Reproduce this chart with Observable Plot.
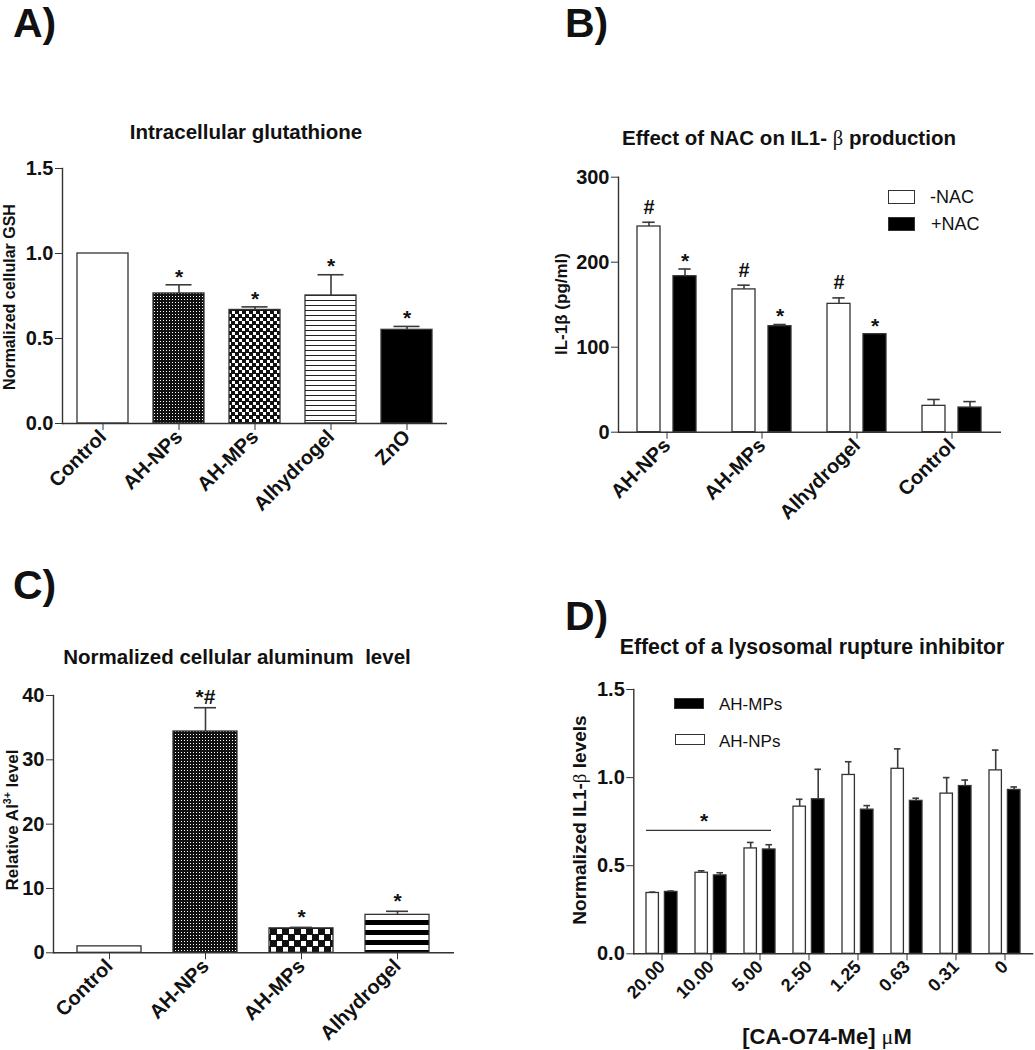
<!DOCTYPE html>
<html>
<head>
<meta charset="utf-8">
<script src="https://cdn.jsdelivr.net/npm/d3@7"></script>
<script src="https://cdn.jsdelivr.net/npm/@observablehq/plot@0.6"></script>
<style>
  body { margin: 0; background: #fff; }
  #page { position: relative; width: 1035px; height: 1050px; overflow: hidden; background: #fff;
          font-family: "Liberation Sans", Arial, Helvetica, sans-serif; color: #111; }
  .abs { position: absolute; white-space: pre; line-height: 1; }
  .ctr { transform: translate(-50%, -50%); }
  .rot { transform: translate(-50%, -50%) rotate(-90deg); }
  .letter { font-size: 41px; font-weight: bold; }
  .title { font-size: 20.5px; font-weight: bold; }
  .ylab { font-weight: bold; }
  .sym { font-family: "Liberation Serif", "DejaVu Serif", serif; font-weight: normal; }
  .leg { font-weight: normal; transform: translateY(-50%); }
  .box { position: absolute; box-sizing: border-box; border: 1.3px solid #333; }
  .panel { position: absolute; }
  sup { font-size: 0.62em; line-height: 0; }
</style>
</head>
<body>
<div id="page">
  <div class="panel" id="pA" style="left:0px;top:100px;width:520px;height:450px"></div>
  <div class="panel" id="pB" style="left:520px;top:100px;width:515px;height:450px"></div>
  <div class="panel" id="pC" style="left:0px;top:640px;width:520px;height:410px"></div>
  <div class="panel" id="pD" style="left:520px;top:640px;width:515px;height:410px"></div>

  <!-- panel letters -->
  <div class="abs letter" style="left:13px;top:3px">A)</div>
  <div class="abs letter" style="left:565px;top:3px">B)</div>
  <div class="abs letter" style="left:13px;top:565px">C)</div>
  <div class="abs letter" style="left:565px;top:596px">D)</div>

  <!-- titles -->
  <div class="abs title ctr" style="left:246px;top:132px">Intracellular glutathione</div>
  <div class="abs title ctr" style="left:789px;top:138px">Effect of NAC on IL1- <span class="sym">β</span> production</div>
  <div class="abs title ctr" style="left:237px;top:657px">Normalized cellular aluminum  level</div>
  <div class="abs title ctr" style="left:812px;top:648px;font-size:21.3px">Effect of a lysosomal rupture inhibitor</div>

  <!-- y axis labels -->
  <div class="abs ylab rot" style="left:10px;top:297px;font-size:16px">Normalized cellular GSH</div>
  <div class="abs ylab rot" style="left:561px;top:304px;font-size:17px">IL-1β (pg/ml)</div>
  <div class="abs ylab rot" style="left:12px;top:820px;font-size:17px">Relative Al<sup>3+</sup> level</div>
  <div class="abs ylab rot" style="left:579px;top:820px;font-size:19px">Normalized IL1-<span class="sym">β</span> levels</div>

  <!-- x axis title D -->
  <div class="abs ctr" style="left:827px;top:1037px;font-size:22px;font-weight:bold">[CA-O74-Me] <span class="sym">μ</span>M</div>

  <!-- legend B -->
  <div class="box" style="left:888px;top:190px;width:27px;height:14px;background:#fff"></div>
  <div class="box" style="left:888px;top:217px;width:27px;height:14px;background:#000"></div>
  <div class="abs leg" style="left:930px;top:197px;font-size:18px">-NAC</div>
  <div class="abs leg" style="left:931px;top:224px;font-size:18px">+NAC</div>

  <!-- legend D -->
  <div class="box" style="left:674px;top:698px;width:30px;height:11px;background:#000"></div>
  <div class="box" style="left:675px;top:734px;width:30px;height:11px;background:#fff"></div>
  <div class="abs leg" style="left:719px;top:704px;font-size:17px">AH-MPs</div>
  <div class="abs leg" style="left:719px;top:741px;font-size:17px">AH-NPs</div>
</div>

<script>
// ================= DATA =================
// Panel A – Intracellular glutathione
const catsA = ["Control", "AH-NPs", "AH-MPs", "Alhydrogel", "ZnO"];
const meanA = [1.0, 0.765, 0.668, 0.753, 0.551];
const errA  = [null, 0.816, 0.686, 0.875, 0.571];
const marksA = ["", "*", "*", "*", "*"];
const ticksA = [0, 0.5, 1.0, 1.5];

// Panel B – Effect of NAC on IL1-β production
const groupsB = ["AH-NPs", "AH-MPs", "Alhydrogel", "Control"];
const minusNAC    = [242, 168, 151, 31];
const minusNACerr = [247, 173, 158, 38.5];
const plusNAC     = [183.5, 124.7, 115.3, 29];
const plusNACerr  = [192, 126.7, null, 36];
const marksMinusB = ["#", "#", "#", ""];
const marksPlusB  = ["*", "*", "*", ""];
const ticksB = [0, 100, 200, 300];

// Panel C – Normalized cellular aluminum level
const catsC = ["Control", "AH-NPs", "AH-MPs", "Alhydrogel"];
const meanC = [1.0, 34.4, 3.8, 5.9];
const errC  = [null, 38.1, 3.95, 6.45];
const marksC = ["", "*#", "*", "*"];
const ticksC = [0, 10, 20, 30, 40];

// Panel D – Effect of a lysosomal rupture inhibitor
const concD  = ["20.00", "10.00", "5.00", "2.50", "1.25", "0.63", "0.31", "0"];
const npD    = [0.345, 0.460, 0.598, 0.835, 1.015, 1.050, 0.909, 1.041];
const npErrD = [0.350, 0.471, 0.632, 0.877, 1.090, 1.163, 1.000, 1.156];
const mpD    = [0.351, 0.445, 0.592, 0.877, 0.818, 0.868, 0.952, 0.930];
const mpErrD = [0.356, 0.460, 0.619, 1.047, 0.841, 0.883, 0.986, 0.947];
const sigD   = [{from: "20.00", to: "5.00", mid: "10.00", level: 0.70, label: "*"}];
const ticksD = [0, 0.5, 1.0, 1.5];

// ================= STYLE =================
const FONT = '"Liberation Sans", Arial, Helvetica, sans-serif';
const baseStyle = {fontFamily: FONT, fontSize: "20px", fontWeight: "bold", color: "#111",
                   background: "transparent", overflow: "visible", maxWidth: "none"};
const TICKFS = 20;
const NOTEFS = 21;
const BAR = {stroke: "#333", strokeWidth: 1.3};
const ERR = {stroke: "#3a3a3a", strokeWidth: 1.6};
const AX  = {stroke: "#333", strokeWidth: 1.4};

const fillA = {"Control": "white", "AH-NPs": "url(#pa-dots)", "AH-MPs": "url(#pa-check)",
               "Alhydrogel": "url(#pa-lines)", "ZnO": "black"};
const fillC = {"Control": "white", "AH-NPs": "url(#pc-dots)", "AH-MPs": "url(#pc-check)",
               "Alhydrogel": "url(#pc-stripes)"};

const defsA = `
<pattern id="pa-dots" patternUnits="userSpaceOnUse" width="3" height="3">
  <rect width="3" height="3" fill="#111"/><rect x="1" y="1" width="1" height="1" fill="#fff"/></pattern>
<pattern id="pa-check" patternUnits="userSpaceOnUse" width="7" height="7">
  <rect width="7" height="7" fill="#111"/><rect x="1" y="1" width="3" height="3" fill="#fff"/>
  <rect x="4" y="4" width="3" height="3" fill="#fff"/></pattern>
<pattern id="pa-lines" patternUnits="userSpaceOnUse" width="8" height="5">
  <rect width="8" height="5" fill="#fff"/><rect width="8" height="1" fill="#222"/></pattern>`;
const defsC = `
<pattern id="pc-dots" patternUnits="userSpaceOnUse" width="3" height="3">
  <rect width="3" height="3" fill="#111"/><rect x="1" y="1" width="1" height="1" fill="#fff"/></pattern>
<pattern id="pc-check" patternUnits="userSpaceOnUse" width="12" height="12">
  <rect width="12" height="12" fill="#111"/><rect x="1" y="1" width="5" height="5" fill="#fff"/>
  <rect x="7" y="7" width="5" height="5" fill="#fff"/></pattern>
<pattern id="pc-stripes" patternUnits="userSpaceOnUse" width="10" height="10">
  <rect width="10" height="10" fill="#fff"/><rect y="0" width="10" height="5" fill="#000"/></pattern>`;

function addDefs(svg, html) {
  const defs = document.createElementNS("http://www.w3.org/2000/svg", "defs");
  defs.innerHTML = html;
  svg.insertBefore(defs, svg.firstChild);
}
function place(id, svg) {
  document.getElementById(id).appendChild(svg);
}
const yAxis = (ticks, fmt) => Plot.axisY({ticks, tickFormat: fmt, tickSize: 7, tickPadding: 2, label: null,
                                           stroke: "#333", fontSize: TICKFS, fontWeight: "bold"});
const xAxis = (fs = TICKFS) => Plot.axisX({tickRotate: -45, tickSize: 7, tickPadding: 3, label: null,
                                stroke: "#333", fontSize: fs, fontWeight: "bold"});

// ================= PANEL A =================
const dataA = catsA.map((c, i) => ({cat: c, mean: meanA[i], err: errA[i], mark: marksA[i]}));
const errDataA = dataA.filter(d => d.err != null);
const plotA = Plot.plot({
  width: 520, height: 450,
  marginLeft: 62, marginRight: 73, marginTop: 68, marginBottom: 127,
  style: baseStyle,
  x: {domain: catsA, paddingInner: 0.33, paddingOuter: 0.19},
  y: {domain: [0, 1.5]},
  color: {type: "identity"},
  marks: [
    Plot.barY(dataA, {x: "cat", y: "mean", fill: d => fillA[d.cat], ...BAR}),
    Plot.ruleX(errDataA, {x: "cat", y1: "mean", y2: "err", ...ERR}),
    Plot.tickY(errDataA, {x: "cat", y: "err", insetLeft: 12.5, insetRight: 12.5, ...ERR}),
    Plot.text(dataA, {x: "cat", y: d => d.err ?? d.mean, text: "mark", dy: -8, fontSize: NOTEFS}),
    Plot.ruleY([0], AX),
    Plot.frame({anchor: "left", ...AX}),
    yAxis(ticksA, d3.format(".1f")),
    xAxis()
  ]
});
addDefs(plotA, defsA);
place("pA", plotA);

// ================= PANEL B =================
const dataB = groupsB.map((g, i) => ({g, minus: minusNAC[i], minusErr: minusNACerr[i],
  plus: plusNAC[i], plusErr: plusNACerr[i], hash: marksMinusB[i], star: marksPlusB[i]}));
const plotB = Plot.plot({
  width: 515, height: 450,
  marginLeft: 98, marginRight: 34, marginTop: 76.7, marginBottom: 118.3,
  style: baseStyle,
  x: {domain: groupsB, paddingInner: 0.374, paddingOuter: 0.195},
  y: {domain: [0, 300]},
  marks: [
    Plot.barY(dataB, {x: "g", y: "minus", insetRight: 36, fill: "white", ...BAR}),
    Plot.barY(dataB, {x: "g", y: "plus", insetLeft: 36, fill: "black", ...BAR}),
    Plot.ruleX(dataB.filter(d => d.minusErr != null), {x: "g", y1: "minus", y2: "minusErr", dx: -18, ...ERR}),
    Plot.tickY(dataB.filter(d => d.minusErr != null), {x: "g", y: "minusErr", dx: -18, insetLeft: 23.3, insetRight: 23.3, ...ERR}),
    Plot.ruleX(dataB.filter(d => d.plusErr != null), {x: "g", y1: "plus", y2: "plusErr", dx: 18, ...ERR}),
    Plot.tickY(dataB.filter(d => d.plusErr != null), {x: "g", y: "plusErr", dx: 18, insetLeft: 23.3, insetRight: 23.3, ...ERR}),
    Plot.text(dataB, {x: "g", y: d => d.minusErr ?? d.minus, text: "hash", dx: -18, dy: -15, fontSize: 20}),
    Plot.text(dataB, {x: "g", y: d => d.plusErr ?? d.plus, text: "star", dx: 18, dy: -8, fontSize: NOTEFS}),
    Plot.ruleY([0], AX),
    Plot.frame({anchor: "left", ...AX}),
    yAxis(ticksB, d3.format("d")),
    xAxis()
  ]
});
place("pB", plotB);

// ================= PANEL C =================
const dataC = catsC.map((c, i) => ({cat: c, mean: meanC[i], err: errC[i], mark: marksC[i]}));
const errDataC = dataC.filter(d => d.err != null);
const plotC = Plot.plot({
  width: 520, height: 410,
  marginLeft: 53, marginRight: 66, marginTop: 55, marginBottom: 97.7,
  style: baseStyle,
  x: {domain: catsC, paddingInner: 0.33, paddingOuter: 0.238},
  y: {domain: [0, 40]},
  color: {type: "identity"},
  marks: [
    Plot.barY(dataC, {x: "cat", y: "mean", fill: d => fillC[d.cat], ...BAR}),
    Plot.ruleX(errDataC, {x: "cat", y1: "mean", y2: "err", ...ERR}),
    Plot.tickY(errDataC, {x: "cat", y: "err", insetLeft: 21, insetRight: 21, ...ERR}),
    Plot.text(dataC, {x: "cat", y: d => d.err ?? d.mean, text: "mark", dy: -10, fontSize: NOTEFS}),
    Plot.ruleY([0], AX),
    Plot.frame({anchor: "left", ...AX}),
    yAxis(ticksC, d3.format("d")),
    xAxis()
  ]
});
addDefs(plotC, defsC);
place("pC", plotC);

// ================= PANEL D =================
const dataD = concD.map((c, i) => ({c, np: npD[i], npErr: npErrD[i], mp: mpD[i], mpErr: mpErrD[i]}));
const plotD = Plot.plot({
  width: 515, height: 410,
  marginLeft: 113.3, marginRight: 1.7, marginTop: 49, marginBottom: 96.7,
  style: baseStyle,
  x: {domain: concD, paddingInner: 0.372, paddingOuter: 0.2},
  y: {domain: [0, 1.5]},
  marks: [
    Plot.barY(dataD, {x: "c", y: "np", insetRight: 18.6, fill: "white", ...BAR}),
    Plot.barY(dataD, {x: "c", y: "mp", insetLeft: 18.4, fill: "black", ...BAR}),
    Plot.ruleX(dataD, {x: "c", y1: "np", y2: "npErr", dx: -9.3, ...ERR}),
    Plot.tickY(dataD, {x: "c", y: "npErr", dx: -9.3, insetLeft: 12.2, insetRight: 12.2, ...ERR}),
    Plot.ruleX(dataD, {x: "c", y1: "mp", y2: "mpErr", dx: 9.2, ...ERR}),
    Plot.tickY(dataD, {x: "c", y: "mpErr", dx: 9.2, insetLeft: 12.2, insetRight: 12.2, ...ERR}),
    Plot.ruleY(sigD, {y: "level", x1: "from", x2: "to", insetRight: 4, stroke: "#333", strokeWidth: 1.3}),
    Plot.text(sigD, {x: "mid", y: "level", text: "label", dx: -7, dy: -9, fontSize: NOTEFS}),
    Plot.ruleY([0], AX),
    Plot.frame({anchor: "left", ...AX}),
    yAxis(ticksD, d3.format(".1f")),
    xAxis(18)
  ]
});
place("pD", plotD);
</script>
</body>
</html>
